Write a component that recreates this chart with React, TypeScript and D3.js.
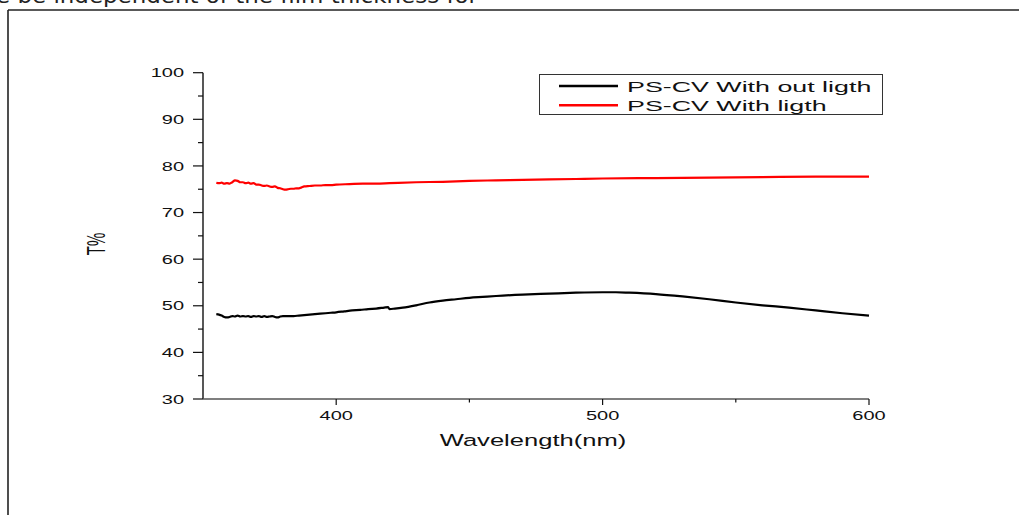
import React from "react";
import * as d3 from "d3";

const wlBlack = [355,356,357,358,359,360,361,362,363,364,365,366,367,368,369,370,371,372,373,374,375,376,377,378,379,380,382,384,386,388,390,392,394,396,398,400,403,406,409,412,415,418,419.5,420,422,425,430,435,440,445,450,455,460,470,480,490,500,505,510,520,530,540,550,560,570,580,590,600];
const tBlack = [48.2,48.1,47.9,47.6,47.5,47.6,47.8,47.7,47.9,47.7,47.8,47.7,47.8,47.6,47.8,47.7,47.8,47.6,47.8,47.6,47.7,47.8,47.6,47.5,47.7,47.8,47.8,47.8,47.9,48.0,48.1,48.2,48.3,48.4,48.5,48.6,48.8,49.0,49.1,49.3,49.4,49.6,49.7,49.3,49.4,49.6,50.1,50.7,51.1,51.4,51.7,51.9,52.1,52.4,52.6,52.8,52.9,52.9,52.8,52.5,52.0,51.4,50.7,50.1,49.6,49.0,48.4,47.9];

const wlRed = [355,356,357,358,359,360,361,362,363,364,365,366,367,368,369,370,371,372,373,374,375,376,377,378,379,380,381,382,383,384,385,386,387,388,390,392,394,396,398,400,405,410,415,420,430,440,450,460,470,480,490,500,520,540,560,580,600];
const tRed = [76.4,76.3,76.4,76.2,76.3,76.2,76.5,76.9,76.8,76.5,76.5,76.3,76.4,76.2,76.3,76.0,76.0,75.8,75.7,75.8,75.6,75.5,75.6,75.3,75.2,75.0,74.9,75.0,75.1,75.1,75.2,75.2,75.4,75.6,75.7,75.8,75.8,75.9,75.9,76.0,76.1,76.2,76.2,76.3,76.5,76.6,76.8,76.9,77.0,77.1,77.2,77.3,77.4,77.5,77.6,77.7,77.7];

const yMajor = [30,40,50,60,70,80,90,100];
const yMinor = [35,45,55,65,75,85,95];
const xMajor = [400,500,600];
const xMinor = [450,550];
const seriesNames = ["PS-CV With out ligth", "PS-CV With ligth"];
const seriesColors = ["#000000", "#ff0000"];

const FONT = "'Liberation Sans', Arial, sans-serif";
const SX = 1.6;

export default function App() {
  const x = d3.scaleLinear().domain([350, 600]).range([203, 869]);
  const y = d3.scaleLinear().domain([30, 100]).range([399, 72.7]);
  const line = d3.line<[number, number]>().x(d => x(d[0])).y(d => y(d[1])).curve(d3.curveMonotoneX);
  const black: [number, number][] = wlBlack.map((w, i) => [w, tBlack[i]]);
  const red: [number, number][] = wlRed.map((w, i) => [w, tRed[i]]);

  return (
    <svg width={1019} height={515} style={{ position: "absolute", left: 0, top: 0, background: "#fff" }}>
      <text x={-4} y={3} fontFamily="'DejaVu Sans', sans-serif" fontSize={21} textLength={482} lengthAdjust="spacingAndGlyphs" fill="#222">e be independent of the film thickness for</text>
      <line x1={8} y1={10} x2={1019} y2={10} stroke="#222" strokeWidth={1.6} />
      <line x1={8} y1={10} x2={8} y2={515} stroke="#222" strokeWidth={1.6} />

      {/* axes */}
      <line x1={203} y1={y(30)} x2={203} y2={y(100)} stroke="#111" strokeWidth={1.4} />
      <line x1={203} y1={399} x2={869} y2={399} stroke="#555" strokeWidth={1.4} />
      {yMajor.map(v => (
        <g key={"ym" + v}>
          <line x1={193} x2={203} y1={y(v)} y2={y(v)} stroke="#111" strokeWidth={1.2} />
          <text transform={`translate(184,${y(v) + 4.6}) scale(${SX},1)`} textAnchor="end" fontFamily={FONT} fontSize={12.5} fill="#111">{v}</text>
        </g>
      ))}
      {yMinor.map(v => (
        <line key={"yn" + v} x1={198} x2={203} y1={y(v)} y2={y(v)} stroke="#111" strokeWidth={1.2} />
      ))}
      {xMajor.map(v => (
        <g key={"xm" + v}>
          <line x1={x(v)} x2={x(v)} y1={399} y2={405} stroke="#111" strokeWidth={1.2} />
          <text transform={`translate(${x(v)},420) scale(${SX},1)`} textAnchor="middle" fontFamily={FONT} fontSize={12.5} fill="#111">{v}</text>
        </g>
      ))}
      {xMinor.map(v => (
        <line key={"xn" + v} x1={x(v)} x2={x(v)} y1={399} y2={402.5} stroke="#111" strokeWidth={1.2} />
      ))}

      <text transform={`translate(533,446) scale(1.55,1)`} textAnchor="middle" fontFamily={FONT} fontSize={16.5} fill="#111">Wavelength(nm)</text>
      <text transform={`translate(105,244) scale(1.7,1) rotate(-90)`} textAnchor="middle" fontFamily={FONT} fontSize={15} fill="#111">T%</text>

      {/* data */}
      <path d={line(black) || ""} fill="none" stroke={seriesColors[0]} strokeWidth={2.2} strokeLinejoin="round" />
      <path d={line(red) || ""} fill="none" stroke={seriesColors[1]} strokeWidth={2.2} strokeLinejoin="round" />

      {/* legend */}
      <rect x={539.5} y={74.5} width={343} height={40} fill="#fff" stroke="#333" strokeWidth={1} />
      {seriesNames.map((n, i) => (
        <g key={n}>
          <line x1={559} x2={618} y1={86 + i * 19.3} y2={86 + i * 19.3} stroke={seriesColors[i]} strokeWidth={2.5} />
          <text transform={`translate(627,${91.7 + i * 19.3}) scale(1.73,1)`} fontFamily={FONT} fontSize={15.5} fill="#111">{n}</text>
        </g>
      ))}
    </svg>
  );
}
